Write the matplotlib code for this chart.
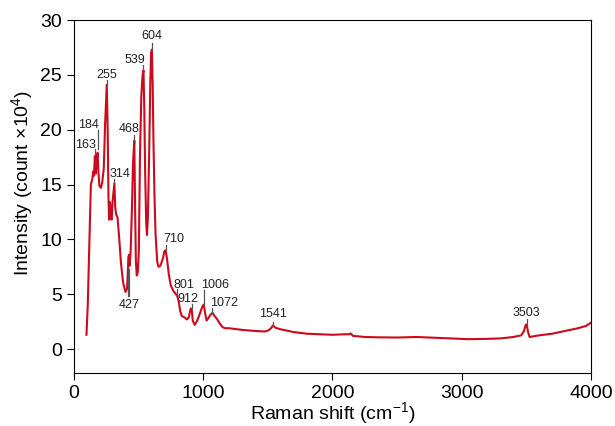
import matplotlib
matplotlib.use('Agg')
import matplotlib.pyplot as plt

plt.rcParams['font.family'] = ['Liberation Sans', 'DejaVu Sans']
plt.rcParams['mathtext.fontset'] = 'custom'
plt.rcParams['mathtext.rm'] = 'Liberation Sans'
plt.rcParams['mathtext.it'] = 'Liberation Sans'

# Raman spectrum
shift = [98, 108, 120, 132, 143, 150, 156, 163, 170, 177, 184, 190, 198, 210, 220, 232, 242,
         255, 262, 268, 273, 280, 287, 293, 300, 314, 320, 327, 338, 350, 365, 382, 400,
         412, 418, 422, 427, 432, 440, 450, 458, 468, 474, 480, 487, 495, 503, 512, 522,
         532, 539, 545, 552, 560, 566, 573, 583, 592, 598, 604, 610, 616, 624, 632, 645,
         655, 670, 690, 700, 710, 720, 735, 750, 770, 790, 801, 812, 822, 835, 855, 875,
         890, 898, 905, 912, 920, 935, 950, 965, 980, 995, 1006, 1015, 1027, 1040, 1055,
         1072, 1090, 1110, 1130, 1150, 1170, 1200, 1300, 1400, 1480, 1505, 1525, 1541,
         1558, 1600, 1700, 1800, 1900, 2000, 2100, 2130, 2140, 2160, 2250, 2350, 2500, 2650,
         2800, 2950, 3050, 3200, 3300, 3400, 3460, 3480, 3495, 3503, 3512, 3525, 3600,
         3700, 3800, 3900, 3960, 4000]
intensity = [1.3, 4.0, 9.5, 15.0, 15.5, 16.2, 15.8, 17.6, 16.0, 17.2, 17.9, 16.2, 14.9, 14.7,
             15.2, 16.5, 20.5, 24.1, 20.0, 14.0, 11.8, 13.4, 12.0, 11.8, 13.5, 15.1, 13.0,
             12.3, 12.0, 10.3, 7.8, 6.0, 5.2, 5.5, 7.0, 8.4, 8.6, 7.6, 9.0, 13.0, 17.0, 19.0,
             13.0, 8.0, 6.7, 7.0, 9.0, 17.8, 23.0, 25.0, 25.4, 22.0, 16.0, 11.5, 10.4, 12.0,
             18.0, 24.5, 27.0, 27.3, 24.0, 19.0, 14.0, 10.5, 8.0, 7.5, 7.6, 8.3, 8.9, 9.0,
             8.3, 6.8, 5.8, 5.3, 5.0, 4.8, 4.3, 3.5, 3.0, 2.9, 2.7, 2.9, 3.4, 3.7, 3.6, 2.6,
             2.2, 2.5, 2.9, 3.4, 3.9, 4.05, 3.3, 2.6, 2.8, 3.1, 3.3, 3.0, 2.7, 2.3, 2.0, 1.9,
             1.9, 1.75, 1.65, 1.6, 1.7, 1.9, 2.15, 1.95, 1.8, 1.55, 1.4, 1.35, 1.3, 1.35,
             1.35, 1.42, 1.2, 1.1, 1.07, 1.05, 1.1, 1.03, 0.95, 0.9, 0.93, 0.97, 1.1, 1.25,
             1.6, 2.2, 2.25, 1.6, 1.1, 1.25, 1.4, 1.65, 1.9, 2.1, 2.4]

# peak labels: wavenumber, text position (x, y), leader line top/bottom
peaks = [163, 184, 255, 314, 427, 468, 539, 604, 710, 801, 912, 1006, 1072, 1541, 3503]
text_x = [90, 116, 253, 361, 425, 425, 472, 601, 774, 851, 884, 1091, 1160, 1537, 3497]
text_y = [18.6, 20.4, 25.0, 15.95, 4.0, 20.05, 26.4, 28.5, 10.0, 5.8, 4.6, 5.8, 4.2, 3.2, 3.3]
line_top = [18.2, 20.0, 24.5, 15.5, 7.2, 19.5, 25.9, 27.9, 9.5, 5.45, 4.15, 5.4, 3.7, 2.45, 2.7]
line_bot = [17.7, 18.2, 24.1, 15.15, 4.8, 19.0, 25.4, 27.4, 9.0, 4.9, 3.7, 4.0, 3.25, 2.1, 2.35]

fig = plt.figure(figsize=(6.15, 4.26), dpi=100)
ax = fig.add_axes([0.120, 0.124, 0.841, 0.829])

ax.plot(shift, intensity, color='#cc0a1e', lw=1.5)

for p, tx, ty, y0, y1 in zip(peaks, text_x, text_y, line_top, line_bot):
    lw = 1.6 if p == 427 else 0.9
    ax.plot([p, p], [y0, y1], color='#555555', lw=lw)
    ax.text(tx, ty, str(p), fontsize=9, ha='center', va='center', color='#222222')

ax.set_xlim(0, 4000)
ax.set_ylim(-2.2, 30)
ax.set_xticks([0, 1000, 2000, 3000, 4000])
ax.set_yticks([0, 5, 10, 15, 20, 25, 30])
ax.tick_params(direction='out', length=5, labelsize=14, top=False, right=False)
ax.set_xlabel(r'Raman shift (cm$^{-1}$)', fontsize=14, labelpad=-1)
ax.set_ylabel(r'Intensity (count $\times$10$^{4}$)', fontsize=14)
ax.yaxis.set_label_coords(-0.075, 0.54)

fig.savefig('out.png', dpi=100)
